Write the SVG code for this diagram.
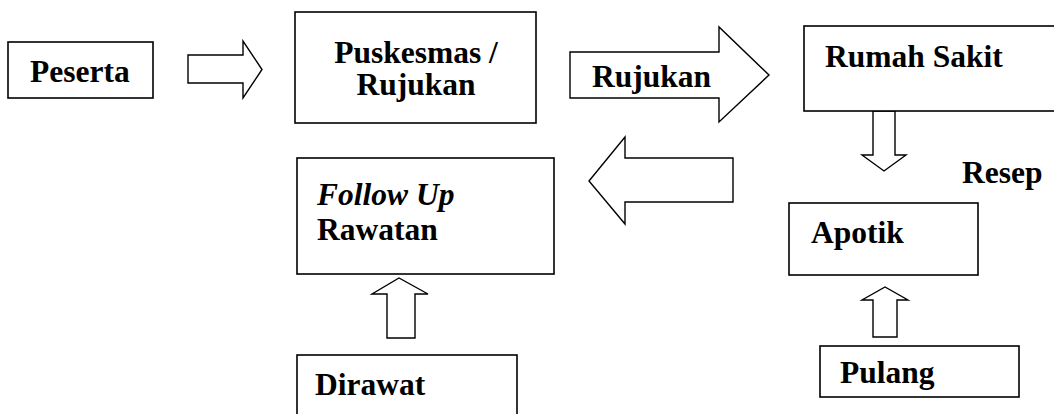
<svg xmlns="http://www.w3.org/2000/svg" width="1054" height="414" viewBox="0 0 1054 414">
<style>
.box{fill:#fff;stroke:#000;stroke-width:1.6}
.arr{fill:#fff;stroke:#000;stroke-width:1.4;stroke-linejoin:miter}
.t{font-family:"Liberation Serif","Times New Roman",serif;font-weight:bold;font-size:31.5px;fill:#000}
.i{font-style:italic}
</style>
<rect width="1054" height="414" fill="#fff"/>
<g id="connectors">
<polygon class="arr" points="188,55 243,55 243,41 262,69.5 243,98 243,83 188,83"/>
<polygon class="arr" points="570,52 719,52 719,27 769,75 719,122 719,98 570,98"/>
<polygon class="arr" points="873,111 895,111 895,155 906,155 884,171 862,155 873,155"/>
<polygon class="arr" points="589,181 625,137 625,158 733,158 733,202 625,202 625,224"/>
<polygon class="arr" points="387,338 387,294 372,294 399,278 428,294 415,294 415,338"/>
<polygon class="arr" points="873,337 873,300 862,300 885,287 908,300 897,300 897,337"/>
<text class="t" x="592" y="87">Rujukan</text>
<text class="t" x="962" y="183">Resep</text>
</g>
<g id="peserta">
<rect class="box" x="8" y="42" width="145" height="56"/>
<text class="t" x="30" y="82">Peserta</text>
</g>
<g id="puskesmas">
<rect class="box" x="295" y="12" width="241" height="111"/>
<text class="t" x="416" y="63" text-anchor="middle">Puskesmas /</text>
<text class="t" x="416" y="95" text-anchor="middle">Rujukan</text>
</g>
<g id="rumahsakit">
<rect class="box" x="804" y="26" width="260" height="85"/>
<text class="t" x="825" y="67">Rumah Sakit</text>
</g>
<g id="apotik">
<rect class="box" x="789" y="203" width="189" height="72"/>
<text class="t" x="811" y="243">Apotik</text>
</g>
<g id="pulang">
<rect class="box" x="820" y="346" width="199" height="51"/>
<text class="t" x="840" y="383">Pulang</text>
</g>
<g id="followup">
<rect class="box" x="297" y="158" width="257" height="116"/>
<text class="t i" x="317" y="205">Follow Up</text>
<text class="t" x="317" y="240">Rawatan</text>
</g>
<g id="dirawat">
<rect class="box" x="297" y="355" width="220" height="70"/>
<text class="t" x="315" y="395">Dirawat</text>
</g>
</svg>
